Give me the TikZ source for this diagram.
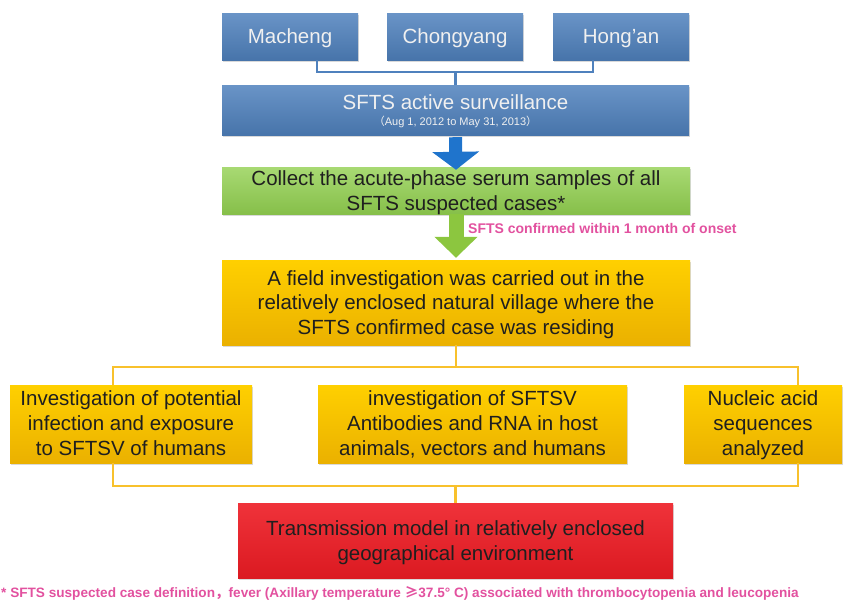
\documentclass[tikz,border=0pt]{standalone}
\usepackage{fontspec}
\setmainfont{Liberation Sans}
\newfontfamily\cjk{Noto Sans CJK SC}
\usetikzlibrary{arrows.meta,shadows}

\definecolor{townblue}{HTML}{4F81BD}
\definecolor{arrowblue}{HTML}{1F74CC}
\definecolor{leafgreen}{HTML}{92D050}
\definecolor{arrowgreen}{HTML}{8CC63F}
\definecolor{gold}{HTML}{FFC000}
\definecolor{linegold}{HTML}{F8C12C}
\definecolor{alarmred}{HTML}{EE1C24}
\definecolor{notepink}{HTML}{E2519F}

\begin{document}
\begin{tikzpicture}[
		x=1pt, y=-1pt,
		box/.style={
			rectangle, align=center, inner sep=2pt, text=black!88,
			font=\fontsize{20.5}{24.5}\selectfont, text depth=0pt,
			drop shadow={opacity=0.3, shadow xshift=0.6pt, shadow yshift=-2pt}
		},
		town/.style={
			box, top color=townblue!85!white, bottom color=townblue!90!black,
			text=white!94!black, minimum height=47pt
		},
		collect/.style={
			box, top color=leafgreen!80!white, bottom color=leafgreen!92!black
		},
		field/.style={
			box, top color=gold!75!yellow, bottom color=gold!92!black
		},
		branch/.style={
			field, font=\fontsize{20.5}{25}\selectfont, text depth=2pt
		},
		model/.style={
			box, top color=alarmred!90!white, bottom color=alarmred!92!black
		},
		bluebracket/.style={draw=townblue, line width=2.4pt},
		goldbracket/.style={draw=linegold, line width=2.4pt},
		note/.style={text=notepink, font=\bfseries\fontsize{13.6}{16}\selectfont, inner sep=0pt}
		]
		
		\useasboundingbox (0,0) rectangle (846,603);
		
		% three counties
		\node[town, minimum width=136pt] (macheng) at (290,36.5) {Macheng};
		\node[town, minimum width=136pt] (chongyang) at (455,36.5) {Chongyang};
		\node[town, minimum width=136pt] (hongan) at (621,36.5) {Hong'an};
		
		\node[town, minimum width=467pt, minimum height=50pt] (surveil) at (455.5,110)
			{SFTS active surveillance\\[-8pt]{\fontsize{11}{12}\selectfont{\cjk （}Aug 1, 2012 to May 31, 2013{\cjk ）}}};
		
		\node[collect, minimum width=468pt, minimum height=47pt] (serum) at (456,190.5)
			{Collect the acute-phase serum samples of all\\SFTS suspected cases*};
		
		\node[field, minimum width=468pt, minimum height=85pt] (village) at (456,302.5)
			{A field investigation was carried out in the\\relatively enclosed natural village where the\\SFTS confirmed case was residing};
		
		% the three lines of work
		\node[branch, minimum width=242pt, minimum height=78pt] (humans) at (131,424)
			{Investigation of potential\\infection and exposure\\to SFTSV of humans};
		\node[branch, minimum width=309pt, minimum height=78pt] (hosts) at (472.5,424)
			{investigation of SFTSV\\Antibodies and RNA in host\\animals, vectors and humans};
		\node[branch, minimum width=158pt, minimum height=78pt] (nucleic) at (763,424)
			{Nucleic acid\\sequences\\analyzed};
		
		\node[model, minimum width=435pt, minimum height=75pt, font=\fontsize{20.5}{25}\selectfont] (transmit) at (455.5,540.5)
			{Transmission model in relatively enclosed\\geographical environment};
		
		% brackets
		\coordinate (bl) at (317,72);
		\coordinate (br) at (593,72);
		\draw[bluebracket] (bl |- macheng.south) -- (bl) -- (br) -- (br |- hongan.south);
		\draw[bluebracket] (surveil.north) -- (surveil.north |- bl);
		
		\coordinate (gl) at (113,367);
		\coordinate (gr) at (798,367);
		\draw[goldbracket] (gl |- humans.north) -- (gl) -- (gr) -- (gr |- nucleic.north);
		\draw[goldbracket] (village.south) -- (village.south |- gl);
		
		\coordinate (hl) at (113,486);
		\coordinate (hr) at (798,486);
		\draw[goldbracket] (hl |- humans.south) -- (hl) -- (hr) -- (hr |- nucleic.south);
		\draw[goldbracket] (transmit.north) -- (transmit.north |- hl);
		
		% block arrows
		\draw[arrowblue, line width=13pt, -{Triangle[width=46pt, length=18pt]}]
			([yshift=-2pt]surveil.south) -- ([yshift=-3pt]serum.north);
		\draw[arrowgreen, line width=15pt, -{Triangle[width=42pt, length=21pt]}]
			(serum.south) -- ([yshift=2pt]village.north);
		
		\node[note, anchor=west, font=\bfseries\fontsize{14}{16}\selectfont] (confirm) at (468,228)
			{SFTS confirmed within 1 month of onset};
		
		\node[note, anchor=west] (define) at (1,593)
			{* SFTS suspected case definition{\cjk ，}fever (Axillary temperature {\cjk ≥}37.5° C) associated with thrombocytopenia and leucopenia};
		
	\end{tikzpicture}
\end{document}
